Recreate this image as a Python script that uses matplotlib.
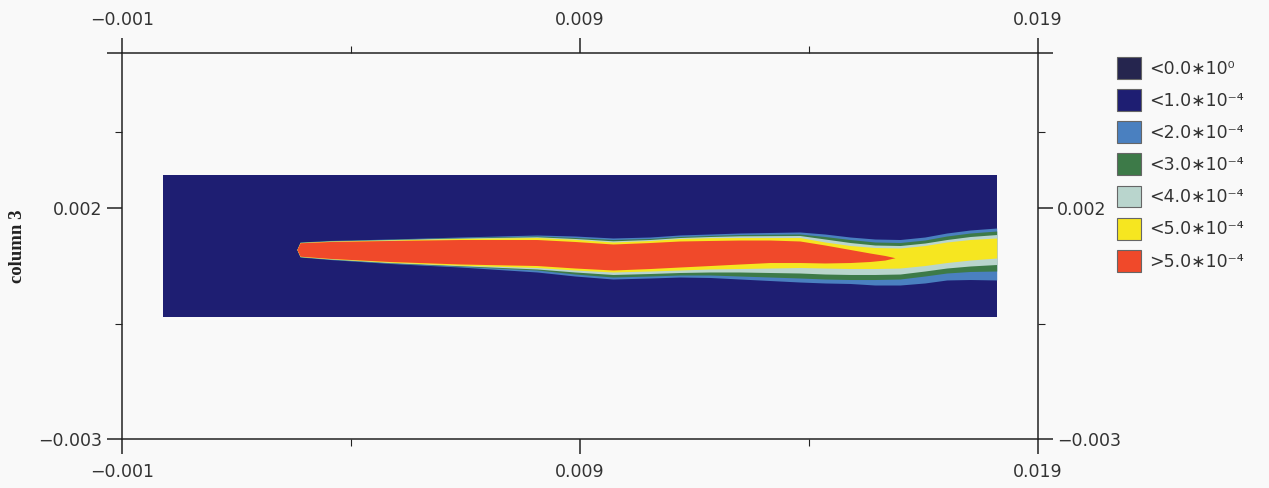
import matplotlib
matplotlib.use('Agg')
import matplotlib.pyplot as plt
from matplotlib.patches import Patch

# model domain (dark navy block)
domain_x = [-0.0001, 0.0181]
domain_y0 = [-0.00036, -0.00036]
domain_y1 = [0.00271, 0.00271]

# stations along the plume for the outer bands
band_x = [0.00282, 0.00289, 0.00354, 0.00485, 0.00638, 0.00806, 0.00889, 0.00972,
          0.01053, 0.01118, 0.01184, 0.01249, 0.01380, 0.01435, 0.01490, 0.01544,
          0.01599, 0.01653, 0.01701, 0.01752, 0.01810]

# band edges (upper / lower)
blue_top = [0.001102, 0.001264, 0.001297, 0.001329, 0.001372, 0.001416, 0.001394, 0.001351,
            0.001372, 0.001416, 0.001437, 0.001459, 0.001481, 0.001437, 0.001372, 0.001329,
            0.001318, 0.001372, 0.001459, 0.001524, 0.001567]
blue_bot = [0.001102, 0.000939, 0.000885, 0.000799, 0.000723, 0.000615, 0.000528, 0.000463,
            0.000485, 0.000506, 0.000496, 0.000463, 0.000398, 0.000377, 0.000366, 0.000333,
            0.000333, 0.000377, 0.000442, 0.000452, 0.000442]

green_top = [0.001102, 0.001260, 0.001292, 0.001323, 0.001361, 0.001394, 0.001361, 0.001318,
             0.001340, 0.001383, 0.001405, 0.001426, 0.001437, 0.001383, 0.001318, 0.001264,
             0.001253, 0.001307, 0.001394, 0.001459, 0.001502]
green_bot = [0.001102, 0.000944, 0.000892, 0.000810, 0.000738, 0.000658, 0.000571, 0.000506,
             0.000528, 0.000550, 0.000550, 0.000528, 0.000485, 0.000463, 0.000452, 0.000452,
             0.000463, 0.000528, 0.000593, 0.000626, 0.000636]

light_top = [0.001102, 0.001255, 0.001286, 0.001316, 0.001351, 0.001377, 0.001340, 0.001290,
             0.001318, 0.001361, 0.001383, 0.001398, 0.001405, 0.001329, 0.001253, 0.001199,
             0.001188, 0.001242, 0.001318, 0.001383, 0.001426]
light_bot = [0.001102, 0.000948, 0.000896, 0.000818, 0.000751, 0.000680, 0.000615, 0.000561,
             0.000582, 0.000604, 0.000615, 0.000615, 0.000593, 0.000571, 0.000561, 0.000561,
             0.000571, 0.000636, 0.000701, 0.000745, 0.000777]

yellow_top = [0.001102, 0.001251, 0.001281, 0.001307, 0.001340, 0.001361, 0.001323, 0.001264,
              0.001297, 0.001340, 0.001357, 0.001361, 0.001361, 0.001264, 0.001188, 0.001145,
              0.001134, 0.001188, 0.001264, 0.001318, 0.001351]
yellow_bot = [0.001102, 0.000952, 0.000903, 0.000827, 0.000762, 0.000712, 0.000658, 0.000615,
              0.000636, 0.000658, 0.000680, 0.000690, 0.000712, 0.000701, 0.000690, 0.000690,
              0.000701, 0.000755, 0.000820, 0.000874, 0.000918]

# red core ends before the right edge
red_x = [0.00282, 0.00289, 0.00354, 0.00485, 0.00638, 0.00806, 0.00889, 0.00972, 0.01053,
         0.01118, 0.01184, 0.01249, 0.01315, 0.01380, 0.01435, 0.01490, 0.01533, 0.01566,
         0.01588]
red_top = [0.001102, 0.001247, 0.001275, 0.001297, 0.001318, 0.001318, 0.001275, 0.001221,
           0.001253, 0.001286, 0.001297, 0.001307, 0.001307, 0.001286, 0.001199, 0.001102,
           0.001026, 0.000972, 0.000924]
red_bot = [0.001102, 0.000957, 0.000909, 0.000842, 0.000788, 0.000755, 0.000701, 0.000658,
           0.000690, 0.000723, 0.000755, 0.000788, 0.000820, 0.000820, 0.000810, 0.000820,
           0.000842, 0.000874, 0.000924]

legend_labels = ['<0.0\u221710\u2070', '<1.0\u221710\u207b\u2074', '<2.0\u221710\u207b\u2074',
                 '<3.0\u221710\u207b\u2074', '<4.0\u221710\u207b\u2074', '<5.0\u221710\u207b\u2074',
                 '>5.0\u221710\u207b\u2074']
legend_colors = ['#25254e', '#1e1e72', '#4a80c0', '#3d7a48', '#b9d5cd', '#f6e620', '#f0492a']

x_ticks = [-0.001, 0.009, 0.019]
x_ticklabels = ['\u22120.001', '0.009', '0.019']
x_minor = [0.004, 0.014]
y_top = 0.005355
y_ticks = [-0.003, 0.002, y_top]
y_ticklabels = ['\u22120.003', '0.002', '']
y_minor = [-0.0005, 0.003645]

bg = '#f9f9f9'
fig = plt.figure(figsize=(12.69, 4.88), dpi=100, facecolor=bg)
ax = fig.add_axes([0.0961, 0.1004, 0.7218, 0.7910])
ax.set_facecolor(bg)

ax.fill_between(domain_x, domain_y0, domain_y1, color=legend_colors[1], lw=0)
ax.fill_between(band_x, blue_bot, blue_top, color=legend_colors[2], lw=0)
ax.fill_between(band_x, green_bot, green_top, color=legend_colors[3], lw=0)
ax.fill_between(band_x, light_bot, light_top, color=legend_colors[4], lw=0)
ax.fill_between(band_x, yellow_bot, yellow_top, color=legend_colors[5], lw=0)
ax.fill_between(red_x, red_bot, red_top, color=legend_colors[6], lw=0)

ax.set_xlim(-0.001, 0.019)
ax.set_ylim(-0.003, y_top)
ax.set_xticks(x_ticks)
ax.set_xticklabels(x_ticklabels)
ax.set_xticks(x_minor, minor=True)
ax.set_yticks(y_ticks)
ax.set_yticklabels(y_ticklabels)
ax.set_yticks(y_minor, minor=True)

for s in ax.spines.values():
    s.set_linewidth(1.1)
    s.set_color('#222222')

ax.tick_params(which='both', direction='out', top=True, right=True,
               labeltop=True, labelright=True, color='#222222')
ax.tick_params(which='major', length=11, width=1.1, labelsize=12.5,
               labelcolor='#333333', pad=3)
ax.tick_params(which='minor', length=5, width=0.8)
ax.tick_params(axis='x', which='major', pad=6)

fig.text(18 / 1269, 0.496, 'column 3', rotation=90, ha='center', va='center',
         family='Liberation Serif', weight='bold', fontsize=13.5, color='#222222')

handles = [Patch(facecolor=c, edgecolor='#666666', lw=0.8) for c in legend_colors]
fig.legend(handles, legend_labels, loc='upper left', bbox_to_anchor=(1117 / 1269, 1 - 57 / 488),
           frameon=False, fontsize=12.5, handlelength=1.4, handleheight=1.55,
           handletextpad=0.45, labelspacing=0.6, borderpad=0, borderaxespad=0,
           labelcolor='#333333')

fig.savefig('out.png', dpi=100, facecolor=bg)
